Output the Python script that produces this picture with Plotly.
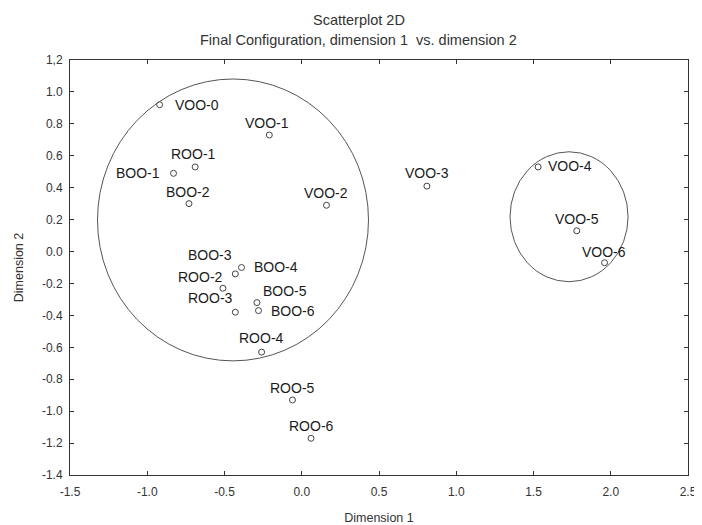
import plotly.graph_objects as go

# ---- data ----
labels = ["VOO-0", "VOO-1", "VOO-2", "VOO-3", "VOO-4", "VOO-5", "VOO-6",
          "BOO-1", "BOO-2", "BOO-3", "BOO-4", "BOO-5", "BOO-6",
          "ROO-1", "ROO-2", "ROO-3", "ROO-4", "ROO-5", "ROO-6"]
dim1 = [-0.92, -0.21, 0.16, 0.81, 1.53, 1.78, 1.96,
        -0.83, -0.73, -0.43, -0.39, -0.29, -0.28,
        -0.69, -0.51, -0.43, -0.26, -0.06, 0.06]
dim2 = [0.92, 0.73, 0.29, 0.41, 0.53, 0.13, -0.07,
        0.49, 0.30, -0.14, -0.10, -0.32, -0.37,
        0.53, -0.23, -0.38, -0.63, -0.93, -1.17]

x_ticks = [-1.5, -1.0, -0.5, 0.0, 0.5, 1.0, 1.5, 2.0, 2.5]
x_ticktext = ["-1.5", "-1.0", "-0.5", "0.0", "0.5", "1.0", "1.5", "2.0", "2.5"]
y_ticks = [1.2, 1.0, 0.8, 0.6, 0.4, 0.2, 0.0, -0.2, -0.4, -0.6, -0.8, -1.0, -1.2, -1.4]
y_ticktext = ["1,2", "1.0", "0.8", "0.6", "0.4", "0.2", "0.0", "-0.2", "-0.4",
              "-0.6", "-0.8", "-1.0", "-1.2", "-1.4"]

title_line1 = "Scatterplot 2D"
title_line2 = "Final Configuration, dimension 1  vs. dimension 2"

# cluster ellipses (center x, center y, radius x, radius y)
ellipse_cx = [-0.445, 1.730]
ellipse_cy = [0.198, 0.218]
ellipse_rx = [0.877, 0.382]
ellipse_ry = [0.883, 0.407]

# ---- label placement (styling: anchor, x shift px, y shift px) ----
label_style = {
    "VOO-0": ("left", 13, 0), "VOO-1": ("center", -2, 12), "VOO-2": ("center", 0, 12),
    "VOO-3": ("center", 0, 13), "VOO-4": ("left", 8, 1), "VOO-5": ("center", 0, 12),
    "VOO-6": ("center", -1, 11), "BOO-1": ("right", -12, 0), "BOO-2": ("center", -1, 12),
    "BOO-3": ("center", -25, 19), "BOO-4": ("left", 10, 1), "BOO-5": ("center", 28, 12),
    "BOO-6": ("left", 11, 0), "ROO-1": ("center", -2, 13), "ROO-2": ("center", -22, 11),
    "ROO-3": ("center", -25, 14), "ROO-4": ("center", 0, 14), "ROO-5": ("center", 0, 12),
    "ROO-6": ("center", 0, 12),
}

FONT = "Arial, Liberation Sans, sans-serif"

fig = go.Figure()
fig.add_trace(go.Scatter(
    x=dim1, y=dim2, mode="markers",
    marker=dict(symbol="circle-open", size=6, color="#444444", line=dict(width=1)),
    cliponaxis=False, showlegend=False, hoverinfo="text", text=labels,
))

for i in range(len(ellipse_cx)):
    fig.add_shape(type="circle", xref="x", yref="y",
                  x0=ellipse_cx[i] - ellipse_rx[i], x1=ellipse_cx[i] + ellipse_rx[i],
                  y0=ellipse_cy[i] - ellipse_ry[i], y1=ellipse_cy[i] + ellipse_ry[i],
                  line=dict(color="#555555", width=1))

for lab, xv, yv in zip(labels, dim1, dim2):
    anc, dx, dy = label_style[lab]
    fig.add_annotation(x=xv, y=yv, text=lab, showarrow=False,
                       xanchor=anc, yanchor="middle", xshift=dx, yshift=dy,
                       font=dict(family=FONT, size=14, color="#1a1a1a"))

# two-line chart title
fig.add_annotation(x=0.4676, y=1.0964, xref="paper", yref="paper", text=title_line1,
                   showarrow=False, xanchor="center", yanchor="middle",
                   font=dict(family=FONT, size=14.5, color="#333333"))
fig.add_annotation(x=0.4676, y=1.0482, xref="paper", yref="paper", text=title_line2,
                   showarrow=False, xanchor="center", yanchor="middle",
                   font=dict(family=FONT, size=14.5, color="#333333"))

fig.update_layout(
    width=694, height=517,
    margin=dict(l=62, r=14, t=52, b=50),
    paper_bgcolor="white", plot_bgcolor="white",
    font=dict(family=FONT, size=12, color="#333333"),
    xaxis=dict(range=[-1.5, 2.5], tickvals=x_ticks, ticktext=x_ticktext,
               showgrid=False, zeroline=False, showline=True, mirror="ticks",
               linecolor="#333333", linewidth=1, ticks="inside", ticklen=4,
               tickcolor="#333333", ticklabelstandoff=6, automargin=False,
               title=dict(text="Dimension 1", font=dict(size=12.5), standoff=14)),
    yaxis=dict(range=[-1.4, 1.2], tickvals=y_ticks, ticktext=y_ticktext,
               showgrid=False, zeroline=False, showline=True, mirror="ticks",
               linecolor="#333333", linewidth=1, ticks="inside", ticklen=4,
               tickcolor="#333333", ticklabelstandoff=4, automargin=False,
               title=dict(text="Dimension 2", font=dict(size=12.5))),
)

fig.write_html("out.html")
